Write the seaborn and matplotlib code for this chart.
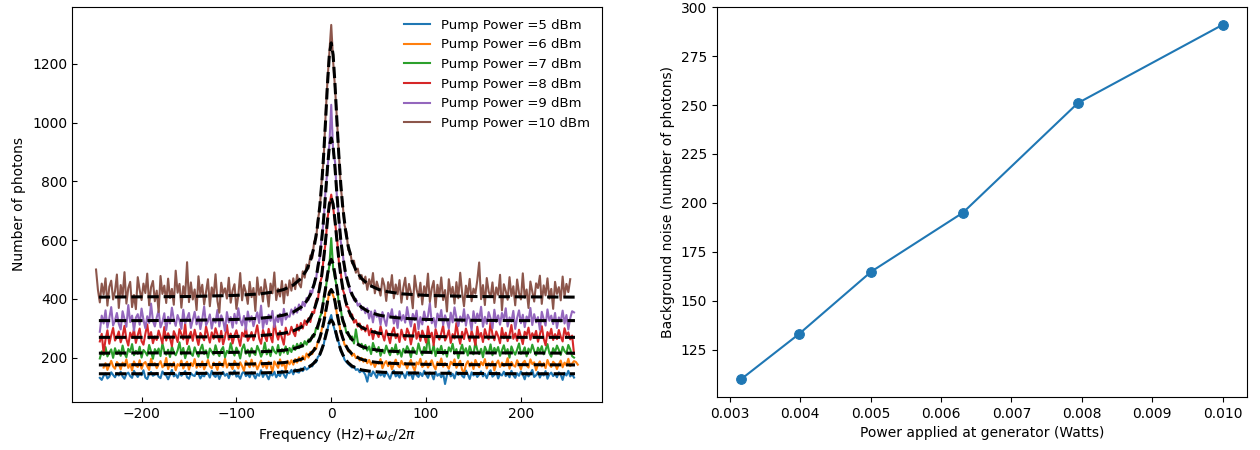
"""
Photon spectra vs pump power (left) and background noise vs generator power (right)
"""

import numpy as np
import pandas as pd
import matplotlib

matplotlib.use("Agg")
import matplotlib.pyplot as plt
import seaborn as sns

plt.rcParams["font.size"] = 10

# spectra: one count every 2 Hz, starting at FREQ_START (Hz)
PUMP_DBM = [5, 6, 7, 8, 9, 10]
FREQ_STEP = 2
FREQ_START = [-244, -240, -244, -244, -244, -248]

COUNTS_5DBM = [
    131, 124, 138, 146, 129, 135, 150, 141, 133, 147,
    139, 152, 136, 128, 144, 149, 137, 131, 155, 143,
    134, 146, 140, 157, 132, 127, 145, 151, 138, 142,
    148, 135, 130, 153, 144, 139, 126, 141, 158, 136,
    143, 131, 149, 138, 145, 154, 133, 128, 147, 140,
    137, 152, 144, 129, 141, 136, 150, 146, 132, 155,
    140, 134, 147, 127, 143, 151, 138, 145, 130, 149,
    142, 156, 135, 139, 128, 146, 153, 137, 144, 133,
    150, 141, 129, 145, 138, 157, 134, 148, 140, 126,
    146, 139, 152, 133, 144, 137, 155, 142, 131, 149,
    147, 158, 143, 160, 151, 149, 163, 154, 168, 159,
    164, 175, 170, 186, 184, 203, 208, 232, 243, 279,
    294, 326, 345, 312, 290, 265, 251, 222, 214, 193,
    185, 178, 172, 166, 170, 158, 161, 150, 155, 152,
    141, 118, 149, 137, 153, 144, 131, 150, 139, 146,
    135, 152, 141, 128, 147, 156, 136, 143, 132, 149,
    144, 130, 151, 139, 146, 127, 153, 140, 134, 148,
    137, 155, 142, 131, 149, 143, 126, 152, 138, 145,
    133, 147, 110, 140, 154, 136, 145, 129, 151, 141,
    148, 138, 132, 156, 143, 127, 150, 139, 146, 134,
    142, 153, 136, 145, 130, 148, 157, 135, 141, 150,
    129, 144, 139, 152, 137, 146, 133, 155, 140, 131,
    147, 138, 153, 142, 126, 149, 136, 145, 158, 134,
    140, 151, 132, 146, 139, 154, 128, 143, 149, 137,
    145, 133, 150, 141, 124, 148, 139, 155, 136, 143,
    132,
]
COUNTS_6DBM = [
    166, 181, 158, 174, 189, 170, 162, 185, 177, 160,
    183, 171, 194, 165, 178, 156, 187, 173, 168, 191,
    162, 179, 185, 170, 158, 196, 174, 181, 164, 176,
    188, 167, 173, 199, 161, 180, 169, 184, 157, 178,
    172, 190, 163, 177, 186, 159, 182, 171, 195, 165,
    179, 168, 187, 160, 175, 192, 170, 164, 183, 174,
    158, 185, 176, 169, 197, 166, 180, 173, 161, 189,
    177, 163, 184, 171, 155, 188, 178, 167, 193, 170,
    182, 160, 175, 190, 168, 179, 163, 186, 174, 152,
    187, 176, 165, 194, 172, 181, 158, 189, 177, 191,
    176, 195, 183, 201, 188, 205, 193, 214, 200, 219,
    212, 233, 229, 256, 262, 297, 312, 360, 384, 426,
    430, 411, 395, 346, 324, 283, 272, 244, 240, 221,
    224, 206, 213, 198, 204, 190, 199, 186, 195, 181,
    192, 176, 186, 168, 183, 179, 195, 164, 180, 188,
    171, 185, 160, 178, 193, 174, 167, 189, 176, 182,
    163, 180, 192, 170, 156, 184, 177, 196, 168, 175,
    188, 166, 179, 191, 172, 160, 185, 174, 197, 169,
    181, 173, 162, 186, 177, 194, 165, 179, 189, 158,
    149, 176, 188, 170, 183, 161, 192, 178, 167, 185,
    174, 195, 163, 181, 172, 187, 156, 179, 190, 168,
    183, 171, 176, 198, 162, 185, 174, 169, 191, 177,
    160, 182, 189, 173, 166, 194, 178, 184, 157, 176,
    187, 170, 181, 164, 192, 175, 168, 186, 179, 161,
    178, 190, 167, 183, 174, 196, 171, 180, 188, 185,
    176,
]
COUNTS_7DBM = [
    197, 221, 209, 236, 204, 217, 228, 199, 232, 212,
    225, 206, 241, 214, 201, 230, 219, 246, 208, 223,
    213, 237, 200, 226, 218, 207, 243, 221, 196, 229,
    216, 231, 205, 248, 222, 210, 227, 202, 238, 219,
    208, 224, 252, 211, 233, 198, 220, 239, 214, 206,
    235, 217, 203, 228, 244, 212, 225, 199, 231, 220,
    210, 242, 218, 205, 226, 236, 201, 223, 215, 249,
    222, 207, 234, 219, 197, 230, 245, 213, 227, 204,
    232, 216, 209, 240, 224, 203, 218, 251, 211, 228,
    205, 237, 221, 214, 243, 208, 229, 217, 238, 212,
    233, 219, 241, 226, 247, 232, 250, 237, 256, 244,
    262, 255, 276, 271, 301, 297, 338, 352, 402, 431,
    476, 512, 607, 505, 470, 441, 385, 366, 322, 315,
    284, 286, 263, 272, 248, 296, 253, 239, 247, 229,
    243, 224, 238, 212, 250, 231, 219, 236, 206, 227,
    215, 241, 222, 208, 233, 218, 245, 211, 226, 203,
    230, 217, 239, 225, 201, 234, 220, 212, 248, 223,
    209, 236, 218, 278, 227, 214, 243, 205, 231, 219,
    240, 211, 226, 203, 235, 221, 247, 213, 229, 198,
    224, 244, 215, 232, 207, 239, 220, 211, 253, 226,
    212, 230, 201, 237, 222, 216, 245, 208, 233, 219,
    236, 206, 225, 242, 214, 229, 200, 238, 221, 210,
    227, 248, 213, 219, 235, 204, 231, 217, 244, 223,
    208, 234, 220, 239, 211, 226, 246, 215, 203, 232,
    218, 241, 226, 209, 237, 222, 214, 243, 228, 205,
    200,
]
COUNTS_8DBM = [
    255, 281, 214, 262, 293, 247, 276, 301, 258, 270,
    289, 252, 274, 308, 263, 241, 285, 268, 296, 250,
    277, 299, 256, 244, 281, 313, 265, 287, 249, 272,
    260, 292, 271, 248, 304, 258, 283, 266, 239, 290,
    275, 253, 297, 280, 262, 316, 246, 273, 288, 257,
    295, 268, 243, 284, 272, 259, 306, 277, 251, 286,
    264, 300, 279, 254, 291, 245, 270, 311, 261, 282,
    248, 276, 293, 266, 240, 285, 272, 303, 257, 269,
    287, 259, 281, 310, 265, 247, 294, 274, 256, 298,
    271, 252, 326, 283, 261, 290, 267, 244, 302, 278,
    280, 305, 286, 273, 312, 292, 318, 299, 327, 311,
    334, 321, 356, 352, 394, 398, 452, 474, 541, 590,
    672, 715, 755, 712, 659, 610, 528, 490, 433, 415,
    374, 371, 341, 347, 319, 328, 306, 316, 295, 305,
    289, 310, 276, 298, 263, 291, 284, 270, 307, 279,
    258, 293, 275, 249, 286, 302, 266, 281, 253, 295,
    272, 260, 299, 283, 245, 278, 314, 264, 288, 257,
    292, 274, 251, 306, 269, 285, 242, 297, 276, 261,
    283, 309, 258, 271, 294, 250, 280, 265, 318, 274,
    247, 288, 263, 299, 277, 256, 291, 270, 243, 305,
    268, 284, 253, 297, 275, 262, 320, 279, 259, 289,
    273, 249, 301, 266, 285, 256, 278, 311, 264, 282,
    257, 295, 270, 246, 288, 276, 302, 261, 283, 269,
    291, 254, 279, 307, 265, 242, 287, 273, 298, 260,
    280, 263, 294, 271, 255, 300, 277, 286, 262, 275,
    213,
]
COUNTS_9DBM = [
    288, 343, 316, 361, 302, 334, 372, 309, 327, 352,
    315, 296, 358, 331, 305, 379, 321, 343, 292, 336,
    348, 312, 367, 329, 300, 341, 318, 384, 325, 306,
    337, 360, 303, 322, 351, 294, 339, 316, 370, 330,
    308, 345, 326, 298, 363, 317, 335, 352, 301, 328,
    356, 313, 340, 297, 331, 374, 310, 324, 347, 299,
    333, 319, 362, 306, 344, 327, 291, 355, 320, 338,
    302, 349, 316, 368, 329, 310, 342, 295, 357, 323,
    341, 307, 332, 354, 318, 377, 300, 336, 314, 346,
    325, 359, 304, 338, 321, 349, 311, 366, 330, 342,
    339, 364, 347, 371, 353, 381, 362, 390, 375, 403,
    396, 428, 421, 458, 467, 519, 540, 612, 664, 771,
    838, 925, 1061, 902, 867, 744, 680, 596, 558, 500,
    468, 456, 423, 421, 395, 400, 377, 384, 362, 372,
    351, 368, 333, 357, 320, 361, 339, 347, 312, 355,
    330, 308, 352, 337, 365, 316, 343, 301, 358, 326,
    345, 319, 372, 334, 306, 349, 328, 360, 297, 338,
    313, 357, 324, 341, 386, 317, 335, 303, 350, 329,
    362, 311, 344, 326, 299, 353, 320, 371, 336, 307,
    340, 322, 365, 309, 346, 331, 294, 358, 318, 350,
    327, 373, 305, 339, 315, 355, 334, 300, 363, 321,
    344, 312, 352, 329, 368, 306, 337, 323, 359, 298,
    335, 361, 317, 346, 304, 340, 326, 369, 311, 348,
    320, 338, 295, 356, 331, 309, 364, 325, 343, 314,
    352, 301, 337, 323, 360, 316, 345, 296, 334, 358,
    354,
]
COUNTS_10DBM = [
    500, 431, 388, 452, 415, 470, 377, 441, 462, 398,
    426, 483, 369, 447, 409, 491, 384, 437, 458, 372,
    413, 365, 474, 431, 396, 452, 420, 486, 378, 440,
    461, 392, 428, 355, 478, 417, 445, 386, 469, 403,
    434, 380, 496, 421, 451, 370, 443, 412, 525, 389,
    456, 398, 432, 362, 477, 415, 448, 381, 425, 467,
    375, 439, 410, 484, 393, 353, 455, 418, 436, 401,
    472, 387, 429, 450, 366, 411, 488, 395, 447, 422,
    383, 458, 406, 437, 359, 473, 414, 440, 391, 466,
    427, 374, 452, 419, 490, 396, 435, 408, 461, 385,
    449, 412, 463, 428, 470, 433, 482, 451, 439, 494,
    472, 517, 503, 548, 539, 595, 604, 671, 709, 806,
    878, 1021, 1142, 1236, 1333, 1210, 1118, 1012, 897, 782,
    724, 651, 628, 566, 560, 521, 530, 489, 503, 468,
    481, 452, 476, 431, 467, 442, 488, 419, 459, 437,
    411, 470, 446, 393, 457, 428, 481, 402, 449, 416,
    464, 387, 438, 472, 399, 451, 423, 368, 479, 432,
    406, 455, 381, 443, 417, 486, 390, 436, 461, 372,
    448, 409, 473, 396, 430, 357, 467, 415, 441, 384,
    457, 402, 489, 421, 375, 445, 413, 468, 392, 435,
    418, 463, 524, 399, 447, 379, 471, 425, 406, 456,
    386, 439, 414, 482, 361, 450, 427, 397, 474, 410,
    443, 378, 466, 420, 398, 487, 404, 432, 369, 459,
    425, 391, 453, 437, 479, 383, 446, 412, 470, 401,
    434, 366, 458, 417, 440, 395, 476, 408, 451, 423,
    467,
]

# lorentzian fits, read at these frequencies (Hz)
FIT_FREQ = [
    -245, -200, -150, -100, -75, -60, -50, -40, -32, -26, -22, -18, -15, -12,
    -10, -8, -6, -4, -2, 0, 2, 4, 6, 8, 10, 12, 15, 18, 22, 26, 32, 40, 50,
    60, 75, 100, 150, 200, 257,
]
FIT_5DBM = [
    145, 145, 146, 147, 148, 149, 151, 154, 158, 165, 171, 182, 194, 211,
    227, 247, 272, 298, 319, 328, 319, 298, 272, 247, 227, 211, 194, 182, 171,
    165, 158, 154, 151, 149, 148, 147, 146, 145, 145,
]
FIT_6DBM = [
    175, 176, 176, 177, 179, 181, 183, 187, 194, 203, 212, 226, 243, 268,
    290, 319, 353, 390, 420, 432, 420, 390, 353, 319, 290, 268, 243, 226, 212,
    203, 194, 187, 183, 181, 179, 177, 176, 176, 175,
]
FIT_7DBM = [
    215, 216, 216, 218, 220, 222, 225, 230, 238, 249, 261, 279, 300, 330,
    358, 394, 436, 482, 520, 535, 520, 482, 436, 394, 358, 330, 300, 279, 261,
    249, 238, 230, 225, 222, 220, 218, 216, 216, 215,
]
FIT_8DBM = [
    269, 269, 270, 272, 275, 279, 283, 291, 303, 319, 336, 363, 394, 440,
    481, 535, 598, 666, 723, 745, 723, 666, 598, 535, 481, 440, 394, 363, 336,
    319, 303, 291, 283, 279, 275, 272, 270, 269, 269,
]
FIT_9DBM = [
    326, 326, 327, 330, 334, 339, 345, 355, 371, 392, 414, 450, 490, 549,
    603, 673, 756, 845, 919, 948, 919, 845, 756, 673, 603, 549, 490, 450, 414,
    392, 371, 355, 345, 339, 334, 330, 327, 326, 326,
]
FIT_10DBM = [
    406, 407, 408, 412, 417, 424, 432, 447, 469, 498, 529, 578, 635, 717,
    793, 890, 1005, 1129, 1231, 1272, 1231, 1129, 1005, 890, 793, 717, 635,
    578, 529, 498, 469, 447, 432, 424, 417, 412, 408, 407, 406,
]

# background noise vs generator power
POWER_W = [0.003162, 0.003981, 0.005012, 0.006310, 0.007943, 0.010000]
NOISE = [110, 133, 165, 195, 251, 291]

counts = [COUNTS_5DBM, COUNTS_6DBM, COUNTS_7DBM, COUNTS_8DBM, COUNTS_9DBM, COUNTS_10DBM]
fits = [FIT_5DBM, FIT_6DBM, FIT_7DBM, FIT_8DBM, FIT_9DBM, FIT_10DBM]
palette = sns.color_palette("tab10", len(PUMP_DBM))

fig = plt.figure(figsize=(12.6, 4.5), dpi=100)
ax1 = fig.add_axes([0.0571, 0.1067, 0.4206, 0.8778])
ax2 = fig.add_axes([0.569, 0.1178, 0.4206, 0.8667])

# measured spectra first, fits drawn on top
for dbm, start, vals, col in zip(PUMP_DBM, FREQ_START, counts, palette):
    freq = start + FREQ_STEP * np.arange(len(vals))
    df = pd.DataFrame({"freq": freq, "photons": vals})
    sns.lineplot(
        data=df, x="freq", y="photons", color=col, linewidth=1.5,
        label=f"Pump Power ={dbm} dBm", ax=ax1,
    )

for fit in fits:
    sns.lineplot(
        x=FIT_FREQ, y=fit, color="black", linestyle="--", linewidth=2.2,
        legend=False, ax=ax1,
    )

ax1.legend(loc="upper right", frameon=False, fontsize=9.5)
ax1.tick_params(direction="in")
ax1.set_xlabel(r"Frequency (Hz)+$\omega_c/2\pi$")
ax1.set_ylabel("Number of photons")

sns.lineplot(
    x=POWER_W, y=NOISE, color=palette[0], marker="o", markersize=7,
    markeredgecolor=palette[0], linewidth=1.5, ax=ax2,
)
ax2.set_yticks([125, 150, 175, 200, 225, 250, 275, 300])
ax2.set_xlabel("Power applied at generator (Watts)")
ax2.set_ylabel("Background noise (number of photons)")

fig.savefig("out.png", dpi=100)
plt.close(fig)
